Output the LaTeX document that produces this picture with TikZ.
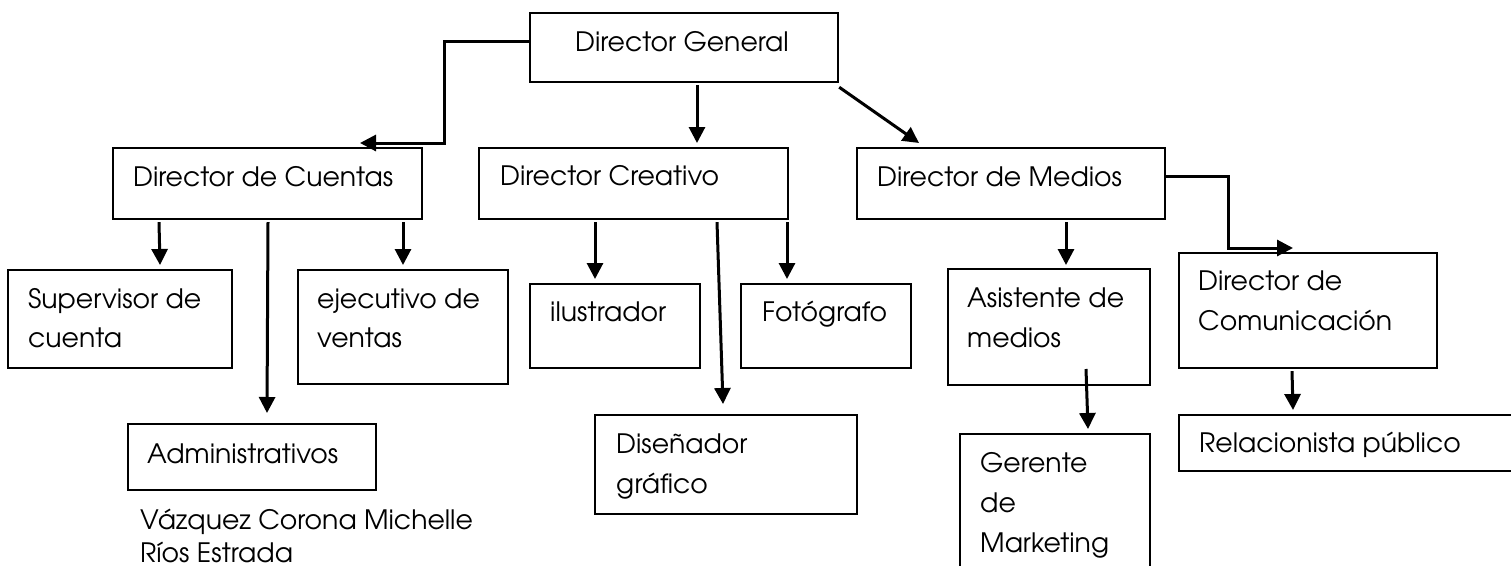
\documentclass[tikz,border=0pt]{standalone}
\usepackage{fontspec}
\setmainfont{TeX Gyre Adventor}
\usetikzlibrary{arrows.meta,calc}
\begin{document}
\begin{tikzpicture}[x=1pt,y=-1pt,
  box/.style={draw, line width=2.2pt, inner sep=0pt, anchor=north west},
  lbl/.style={anchor=base west, inner sep=0pt, font=\fontsize{26.7}{40}\selectfont},
  arr/.style={line width=3pt, -{Triangle[length=16pt,width=16pt]}}]
\clip (0,0) rectangle (1511,565);
\fill[white] (0,0) rectangle (1511,565);
% boxes
\node[box, minimum width=308pt, minimum height=69pt] (dg) at (529,12) {};
\node[box, minimum width=309pt, minimum height=71pt] (dcu) at (112,147) {};
\node[box, minimum width=309pt, minimum height=71pt] (dcr) at (478,147) {};
\node[box, minimum width=308pt, minimum height=71pt] (dm) at (856,147) {};
\node[box, minimum width=224pt, minimum height=98pt] (sup) at (7,269) {};
\node[box, minimum width=210pt, minimum height=114pt] (eje) at (297,269) {};
\node[box, minimum width=248pt, minimum height=66pt] (adm) at (127,423) {};
\node[box, minimum width=170pt, minimum height=84pt] (ilu) at (529,283) {};
\node[box, minimum width=170pt, minimum height=84pt] (foto) at (740,283) {};
\node[box, minimum width=262pt, minimum height=99pt] (dis) at (594,414) {};
\node[box, minimum width=202pt, minimum height=116pt] (asis) at (947,268) {};
\node[box, minimum width=190pt, minimum height=150pt] (ger) at (959,433) {};
\node[box, minimum width=258pt, minimum height=115pt] (dcom) at (1178,252) {};
\node[box, minimum width=350pt, minimum height=56pt] (rel) at (1178,414) {};
% labels
\node[lbl] (tdg) at (575,51) {Director General};
\node[lbl] (tdcu) at (133,186) {Director de Cuentas};
\node[lbl] (tdcr) at (500,185) {Director Creativo};
\node[lbl] (tdm) at (877,186) {Director de Medios};
\node[lbl] (tsup1) at (28,308) {Supervisor de};
\node[lbl] (tsup2) at (28,347) {cuenta};
\node[lbl] (teje1) at (317,308) {ejecutivo de};
\node[lbl] (teje2) at (317,347) {ventas};
\node[lbl] (tadm) at (147,463) {Administrativos};
\node[lbl] (tname1) at (140,529) {Vázquez Corona Michelle};
\node[lbl] (tname2) at (140,562) {Ríos Estrada};
\node[lbl] (tilu) at (550,321) {ilustrador};
\node[lbl] (tfoto) at (762,321) {Fotógrafo};
\node[lbl] (tdis1) at (616,453) {Diseñador};
\node[lbl] (tdis2) at (616,493) {gráfico};
\node[lbl] (tasis1) at (967,307) {Asistente de};
\node[lbl] (tasis2) at (967,347) {medios};
\node[lbl] (tger1) at (980,472) {Gerente};
\node[lbl] (tger2) at (980,512) {de};
\node[lbl] (tger3) at (980,552) {Marketing};
\node[lbl] (tdcom1) at (1198,290) {Director de};
\node[lbl] (tdcom2) at (1198,330) {Comunicación};
\node[lbl] (trel) at (1199,452) {Relacionista público};
% connectors
\draw[arr] (dg.west |- 0,41) -| (444,143) -- (360,143);
\draw[arr] ($(697,0 |- dg.south)+(0,2)$) -- (697,143);
\draw[arr] ($(dg.south east)+(0,4)$) -- (919,143);
\draw[arr] ($(159,0 |- dcu.south)+(0,2)$) -- (160,265);
\draw[arr] ($(268,0 |- dcu.south)+(0,2)$) -- (267,413);
\draw[arr] ($(403,0 |- dcu.south)+(0,2)$) -- (403,265);
\draw[arr] ($(595,0 |- dcr.south)+(0,2)$) -- (595,279);
\draw[arr] ($(717,0 |- dcr.south)+(0,2)$) -- (723,404);
\draw[arr] ($(787,0 |- dcr.south)+(0,2)$) -- (787,279);
\draw[arr] ($(1066,0 |- dm.south)+(0,2)$) -- (1066,265);
\draw[arr] (dm.east |- 0,176) -| (1228,248) -- (1293,248);
\draw[arr] (1086,369) -- ($(1088,0 |- ger.north)+(0,-4)$);
\draw[arr] ($(1292,0 |- dcom.south)+(0,2)$) -- (1293,410);
\end{tikzpicture}
\end{document}
